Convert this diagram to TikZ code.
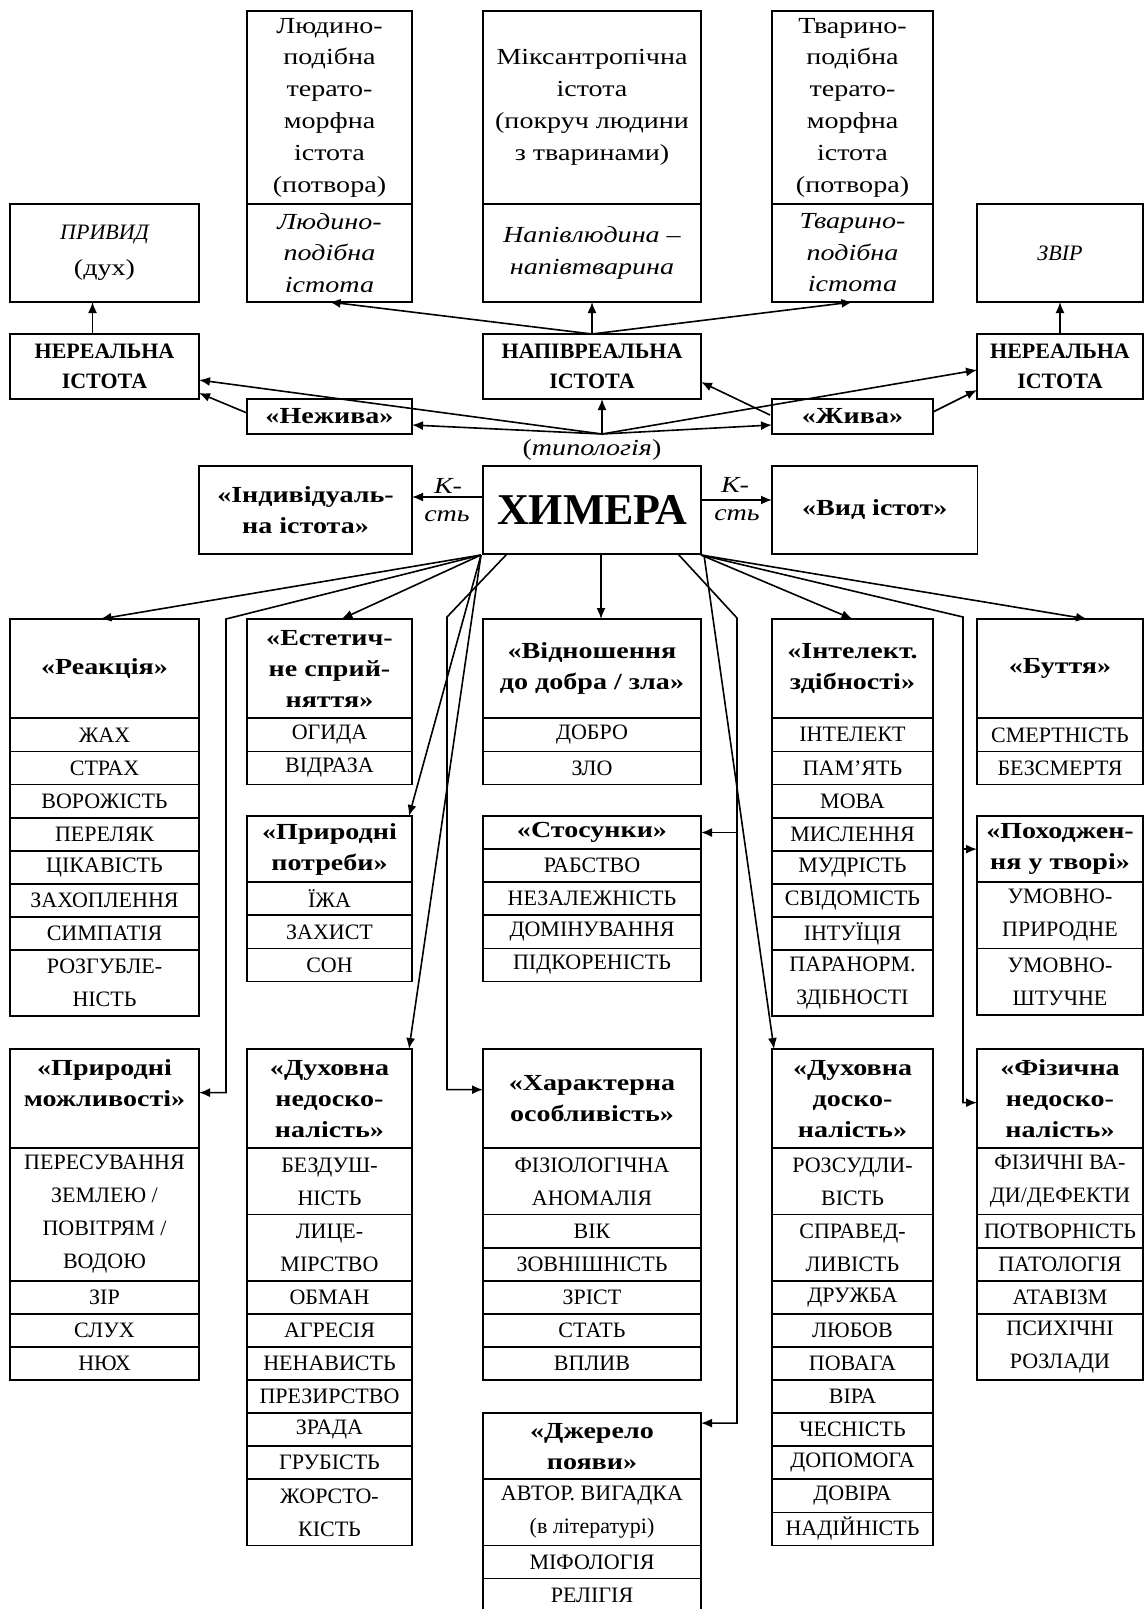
\documentclass[tikz,border=0pt]{standalone}
\usepackage{fontspec}
\setmainfont{Liberation Serif}
\newfontfamily\widefont{Liberation Serif}[FakeStretch=1.22]
\usetikzlibrary{arrows.meta,calc}

\def\rowu{33.1}
\newcommand\colstart[3]{\xdef\bxX{#1}\xdef\bxY{#2}\xdef\bxW{#3}}
\newcommand\cellnode[4]{%
  \node[#1, minimum width=\bxW pt, minimum height=#3*\rowu pt] (#2) at (\bxX,\bxY) {#4};
  \pgfmathsetmacro\bxNY{\bxY+#3*\rowu}\xdef\bxY{\bxNY}}

\tikzset{
  box/.style={draw, line width=1.8pt, anchor=north west, inner sep=0pt, outer sep=0pt, align=center},
  item/.style={box, font=\fontsize{22}{33}\selectfont},
  head/.style={box, font=\widefont\bfseries\fontsize{23}{31}\selectfont},
  topbox/.style={box, font=\widefont\fontsize{23}{31.8}\selectfont},
  topital/.style={box, font=\widefont\itshape\fontsize{23}{31.5}\selectfont},
  capbold/.style={box, font=\bfseries\fontsize{22}{30}\selectfont},
  lbl/.style={inner sep=0pt, font=\widefont\fontsize{23}{28}\selectfont},
  arr/.style={line width=1.6pt, -{Latex[length=11pt,width=9pt]}},
}

\begin{document}
\begin{tikzpicture}[x=1pt,y=-1pt]
\useasboundingbox (0,0) rectangle (1145,1609);

% ---------- top section ----------
\node[topbox, minimum width=165pt, minimum height=193pt] (tL1) at (247,11) {Людино-\\подібна\\терато-\\морфна\\істота\\(потвора)};
\node[topital, minimum width=165pt, minimum height=98pt] (tL2) at (247,204) {Людино-\\подібна\\істота};
\node[topbox, minimum width=218pt, minimum height=193pt] (tM1) at (483,11) {Міксантропічна\\істота\\(покруч людини\\з тваринами)};
\node[topital, minimum width=218pt, minimum height=98pt] (tM2) at (483,204) {Напівлюдина –\\напівтварина};
\node[topbox, minimum width=161pt, minimum height=193pt] (tR1) at (772,11) {Тварино-\\подібна\\терато-\\морфна\\істота\\(потвора)};
\node[topital, minimum width=161pt, minimum height=98pt] (tR2) at (772,204) {Тварино-\\подібна\\істота};

\node[topbox, minimum width=189pt, minimum height=98pt, font=\widefont\fontsize{23}{36}\selectfont] (privyd) at (10,204) {{\rmfamily\itshape\fontsize{22}{36}\selectfont ПРИВИД}\\(дух)};
\node[box, minimum width=166pt, minimum height=98pt, font=\itshape\fontsize{22}{30}\selectfont] (zvir) at (977,204) {ЗВІР};

\node[capbold, minimum width=189pt, minimum height=65pt] (nereL) at (10,334) {НЕРЕАЛЬНА\\ІСТОТА};
\node[capbold, minimum width=218pt, minimum height=65pt] (napiv) at (483,334) {НАПІВРЕАЛЬНА\\ІСТОТА};
\node[capbold, minimum width=166pt, minimum height=65pt] (nereR) at (977,334) {НЕРЕАЛЬНА\\ІСТОТА};

\node[head, minimum width=165pt, minimum height=35pt] (nezh) at (247,399) {«Нежива»};
\node[head, minimum width=161pt, minimum height=35pt] (zhyva) at (772,399) {«Жива»};

\node[lbl] (typ) at (592,450) {(\textit{типологія})};

\node[head, minimum width=213pt, minimum height=88pt] (indiv) at (199,466) {«Індивідуаль-\\на істота»};
\node[box, minimum width=218pt, minimum height=88pt, font=\bfseries\fontsize{44}{48}\selectfont] (chim) at (483,466) {ХИМЕРА};
\node[head, minimum width=205.5pt, minimum height=88pt] (vyd) at (772,466) {«Вид істот»};

\node[lbl] (kL1) at (448,486) {\textit{К-}};
\node[lbl] (kL2) at (447,516) {\textit{сть}};
\node[lbl] (kR1) at (735,485) {\textit{К-}};
\node[lbl] (kR2) at (737,515) {\textit{сть}};

% ---------- row 1 ----------
\colstart{10}{619}{189}
\cellnode{head}{reac0}{3}{«Реакція»}
\cellnode{item}{reac1}{1}{ЖАХ}
\cellnode{item}{reac2}{1}{СТРАХ}
\cellnode{item}{reac3}{1}{ВОРОЖІСТЬ}
\cellnode{item}{reac4}{1}{ПЕРЕЛЯК}
\cellnode{item}{reac5}{1}{ЦІКАВІСТЬ}
\cellnode{item}{reac6}{1}{ЗАХОПЛЕННЯ}
\cellnode{item}{reac7}{1}{СИМПАТІЯ}
\cellnode{item}{reac8}{2}{РОЗГУБЛЕ-\\НІСТЬ}

\colstart{247}{619}{165}
\cellnode{head}{est0}{3}{«Естетич-\\не сприй-\\няття»}
\cellnode{item}{est1}{1}{ОГИДА}
\cellnode{item}{est2}{1}{ВІДРАЗА}

\colstart{483}{619}{218}
\cellnode{head}{vidn0}{3}{«Відношення\\до добра / зла»}
\cellnode{item}{vidn1}{1}{ДОБРО}
\cellnode{item}{vidn2}{1}{ЗЛО}

\colstart{772}{619}{161}
\cellnode{head}{int0}{3}{«Інтелект.\\здібності»}
\cellnode{item}{int1}{1}{ІНТЕЛЕКТ}
\cellnode{item}{int2}{1}{ПАМ'ЯТЬ}
\cellnode{item}{int3}{1}{МОВА}
\cellnode{item}{int4}{1}{МИСЛЕННЯ}
\cellnode{item}{int5}{1}{МУДРІСТЬ}
\cellnode{item}{int6}{1}{СВІДОМІСТЬ}
\cellnode{item}{int7}{1}{ІНТУЇЦІЯ}
\cellnode{item}{int8}{2}{ПАРАНОРМ.\\ЗДІБНОСТІ}

\colstart{977}{619}{166}
\cellnode{head}{but0}{3}{«Буття»}
\cellnode{item}{but1}{1}{СМЕРТНІСТЬ}
\cellnode{item}{but2}{1}{БЕЗСМЕРТЯ}

% ---------- row 2 ----------
\colstart{247}{816}{165}
\cellnode{head}{potr0}{2}{«Природні\\потреби»}
\cellnode{item}{potr1}{1}{ЇЖА}
\cellnode{item}{potr2}{1}{ЗАХИСТ}
\cellnode{item}{potr3}{1}{СОН}

\colstart{483}{816}{218}
\cellnode{head}{stos0}{1}{«Стосунки»}
\cellnode{item}{stos1}{1}{РАБСТВО}
\cellnode{item}{stos2}{1}{НЕЗАЛЕЖНІСТЬ}
\cellnode{item}{stos3}{1}{ДОМІНУВАННЯ}
\cellnode{item}{stos4}{1}{ПІДКОРЕНІСТЬ}

\colstart{977}{816}{166}
\cellnode{head}{poh0}{2}{«Походжен-\\ня у творі»}
\cellnode{item}{poh1}{2}{УМОВНО-\\ПРИРОДНЕ}
\cellnode{item}{poh2}{2}{УМОВНО-\\ШТУЧНЕ}

% ---------- row 3 ----------
\colstart{10}{1049}{189}
\cellnode{head}{mozh0}{3}{«Природні\\можливості»\\~}
\cellnode{item}{mozh1}{4}{ПЕРЕСУВАННЯ\\ЗЕМЛЕЮ /\\ПОВІТРЯМ /\\ВОДОЮ}
\cellnode{item}{mozh2}{1}{ЗІР}
\cellnode{item}{mozh3}{1}{СЛУХ}
\cellnode{item}{mozh4}{1}{НЮХ}

\colstart{247}{1049}{165}
\cellnode{head}{dned0}{3}{«Духовна\\недоско-\\налість»}
\cellnode{item}{dned1}{2}{БЕЗДУШ-\\НІСТЬ}
\cellnode{item}{dned2}{2}{ЛИЦЕ-\\МІРСТВО}
\cellnode{item}{dned3}{1}{ОБМАН}
\cellnode{item}{dned4}{1}{АГРЕСІЯ}
\cellnode{item}{dned5}{1}{НЕНАВИСТЬ}
\cellnode{item}{dned6}{1}{ПРЕЗИРСТВО}
\cellnode{item}{dned7}{1}{ЗРАДА}
\cellnode{item}{dned8}{1}{ГРУБІСТЬ}
\cellnode{item}{dned9}{2}{ЖОРСТО-\\КІСТЬ}

\colstart{483}{1049}{218}
\cellnode{head}{char0}{3}{«Характерна\\особливість»}
\cellnode{item}{char1}{2}{ФІЗІОЛОГІЧНА\\АНОМАЛІЯ}
\cellnode{item}{char2}{1}{ВІК}
\cellnode{item}{char3}{1}{ЗОВНІШНІСТЬ}
\cellnode{item}{char4}{1}{ЗРІСТ}
\cellnode{item}{char5}{1}{СТАТЬ}
\cellnode{item}{char6}{1}{ВПЛИВ}

\colstart{772}{1049}{161}
\cellnode{head}{dpos0}{3}{«Духовна\\доско-\\налість»}
\cellnode{item}{dpos1}{2}{РОЗСУДЛИ-\\ВІСТЬ}
\cellnode{item}{dpos2}{2}{СПРАВЕД-\\ЛИВІСТЬ}
\cellnode{item}{dpos3}{1}{ДРУЖБА}
\cellnode{item}{dpos4}{1}{ЛЮБОВ}
\cellnode{item}{dpos5}{1}{ПОВАГА}
\cellnode{item}{dpos6}{1}{ВІРА}
\cellnode{item}{dpos7}{1}{ЧЕСНІСТЬ}
\cellnode{item}{dpos8}{1}{ДОПОМОГА}
\cellnode{item}{dpos9}{1}{ДОВІРА}
\cellnode{item}{dpos10}{1}{НАДІЙНІСТЬ}

\colstart{977}{1049}{166}
\cellnode{head}{fiz0}{3}{«Фізична\\недоско-\\налість»}
\cellnode{item}{fiz1}{2}{ФІЗИЧНІ ВА-\\ДИ/ДЕФЕКТИ}
\cellnode{item}{fiz2}{1}{ПОТВОРНІСТЬ}
\cellnode{item}{fiz3}{1}{ПАТОЛОГІЯ}
\cellnode{item}{fiz4}{1}{АТАВІЗМ}
\cellnode{item}{fiz5}{2}{ПСИХІЧНІ\\РОЗЛАДИ}

% ---------- row 4 ----------
\colstart{483}{1413}{218}
\cellnode{head}{dzh0}{2}{«Джерело\\появи»}
\cellnode{item}{dzh1}{2}{АВТОР. ВИГАДКА\\(в літературі)}
\cellnode{item}{dzh2}{1}{МІФОЛОГІЯ}
\cellnode{item}{dzh3}{1}{РЕЛІГІЯ}

% ---------- connectors: top ----------
\coordinate (hubT) at (602,434);
\draw[arr] (hubT) -- (hubT |- napiv.south);
\draw[arr] (hubT) -- ($(nezh.east)+(0,8.5)$);
\draw[arr] (hubT) -- ($(nereL.east)+(0,13.5)$);
\draw[arr] ($(nezh.west)+(0,-3.5)$) -- ($(nereL.east)+(0,26.5)$);
\draw[arr] (hubT) -- ($(zhyva.west)+(0,8.5)$);
\draw[arr] (hubT) -- ($(nereR.west)+(0,3.5)$);
\draw[arr] ($(zhyva.east)+(0,-4.5)$) -- ($(nereR.west)+(0,23.5)$);
\draw[arr] ($(zhyva.north west)+(-2,16)$) -- ($(napiv.east)+(0,15.5)$);
\draw[arr] ($(nereL.north)+(-12,0)$) -- ($(privyd.south)+(-12,0)$);
\draw[arr] (nereR.north) -- (zvir.south);
\draw[arr] (napiv.north) -- (tL2.south);
\draw[arr] (napiv.north) -- (tM2.south);
\draw[arr] (napiv.north) -- (tR2.south);

% ---------- connectors: middle ----------
\draw[arr] ($(chim.west)+(0,-13)$) -- ($(indiv.east)+(0,-13)$);
\draw[arr] ($(chim.east)+(0,-10)$) -- ($(vyd.west)+(0,-10)$);

% ---------- connectors: bottom left ----------
\coordinate (hubBL) at ($(chim.south west)+(-2,1)$);
\coordinate (cL1) at (226,619);
\coordinate (cL2s) at ($(chim.south west)+(24,0)$);
\coordinate (cL2) at (447,617);
\draw[arr] (hubBL) -- ($(reac0.north)+(-4,0)$);
\draw[arr] (hubBL) -- (cL1) |- ($(mozh0.east)+(0,-6)$);
\draw[arr] (hubBL) -- ($(est0.north)+(12,0)$);
\draw[arr] (hubBL) -- ($(potr0.north east)+(-3,0)$);
\draw[arr] (hubBL) -- ($(dned0.north east)+(-3,0)$);
\draw[arr] (cL2s) -- (cL2) |- ($(char0.west)+(0,-9)$);

% ---------- connectors: bottom right ----------
\coordinate (hubBR) at ($(chim.south east)+(0,1)$);
\coordinate (cR1s) at ($(chim.south east)+(-23,0)$);
\coordinate (cR1) at (737,618);
\coordinate (cR2) at (963,617);
\draw[arr] ($(chim.south)+(9,0)$) -- ($(vidn0.north)+(9,0)$);
\draw[arr] (cR1s) -- (cR1) |- ($(dzh0.east)+(0,-23)$);
\draw[arr] (cR1 |- stos0.east) -- (stos0.east);
\draw[arr] (hubBR) -- (int0.north);
\draw[arr] ($(hubBR)+(3,0)$) -- ($(dpos0.north west)+(2,0)$);
\draw[arr] (hubBR) -- (cR2) |- ($(fiz0.west)+(0,4)$);
\draw[arr] (cR2 |- poh0.west) -- (poh0.west);
\draw[arr] (hubBR) -- ($(but0.north)+(27,0)$);
\end{tikzpicture}
\end{document}
